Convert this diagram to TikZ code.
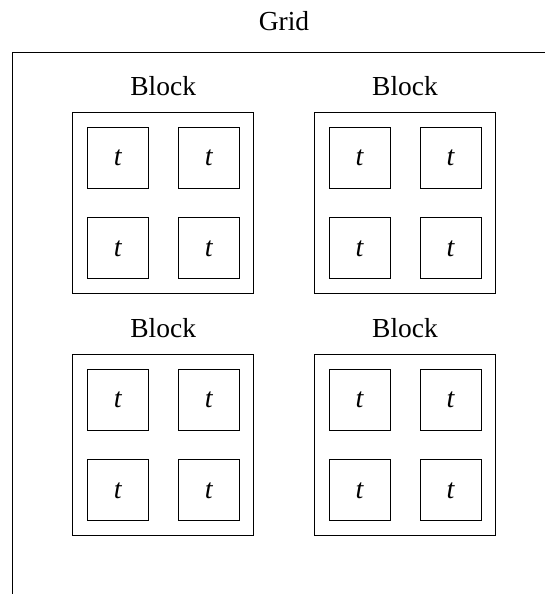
\documentclass[tikz,border=0pt]{standalone}
\usepackage{fontspec}
\setmainfont{Liberation Serif}
\begin{document}
\begin{tikzpicture}[x=1pt,y=-1pt,line width=0.9pt,
  lbl/.style={font=\fontsize{27.5}{32}\selectfont, anchor=base, inner sep=0pt},
  blockbox/.style={draw, minimum size=181pt, inner sep=0pt, outer sep=0pt},
  threadbox/.style={draw, minimum size=61pt, inner sep=0pt, outer sep=0pt, font=\fontsize{28}{32}\selectfont\itshape}]
\useasboundingbox (0,0) rectangle (545,594);
\begin{scope}
\clip (0,0) rectangle (545,594);
\node[draw, minimum width=700pt, minimum height=700pt, inner sep=0pt, anchor=north west] (grid) at (12,52) {};
\end{scope}
\node[lbl] (gridlbl) at (284,31) {Grid};
\foreach \bx/\by/\nm in {163.25/203/a, 405/203/b, 163.25/445/c, 405/445/d}{
  \node[blockbox] (blk\nm) at (\bx,\by) {};
  \node[lbl] (lbl\nm) at (\bx,\by-107.4) {Block};
  \node[threadbox] (t\nm1) at (\bx-45.5,\by-45.5) {t};
  \node[threadbox] (t\nm2) at (\bx+45.5,\by-45.5) {t};
  \node[threadbox] (t\nm3) at (\bx-45.5,\by+45.3) {t};
  \node[threadbox] (t\nm4) at (\bx+45.5,\by+45.3) {t};
}
\end{tikzpicture}
\end{document}
